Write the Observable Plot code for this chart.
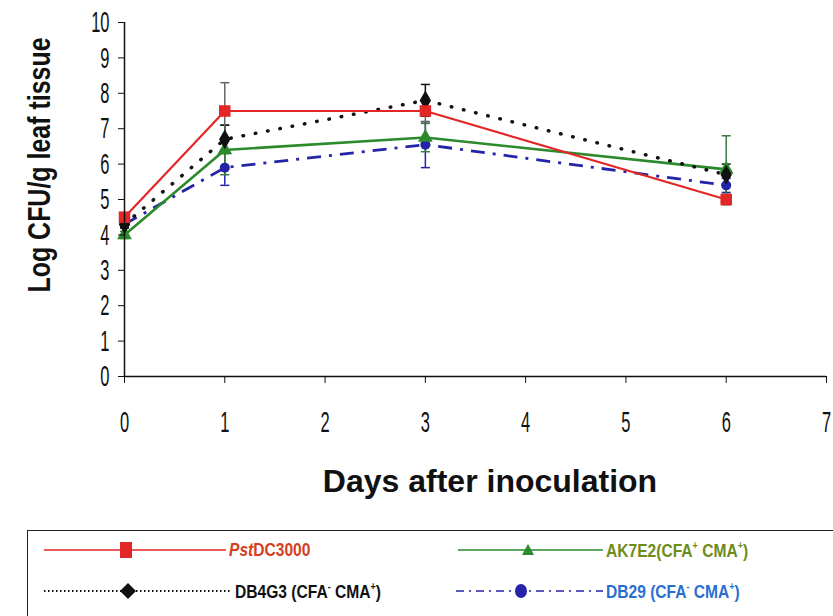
<!DOCTYPE html>
<html><head><meta charset="utf-8">
<script src="https://cdn.jsdelivr.net/npm/d3@7"></script>
<script src="https://cdn.jsdelivr.net/npm/@observablehq/plot@0.6"></script>
<style>
html,body{margin:0;padding:0;background:#fff;}
body{width:833px;height:616px;overflow:hidden;position:relative;font-family:"Liberation Sans",Arial,sans-serif;}
#chart{position:absolute;left:0;top:0;}
#chart g[aria-label="x-axis tick label"] text,#chart g[aria-label="y-axis tick label"] text{font-family:"Liberation Sans",Arial,sans-serif;font-size:30px;fill:#111;}
#chart g[aria-label="x-axis label"] text,#chart g[aria-label="y-axis label"] text{font-family:"Liberation Sans",Arial,sans-serif;font-weight:bold;font-size:32px;fill:#111;}
#legend{position:absolute;left:27px;top:530px;width:830px;height:100px;border:1.5px solid #222;box-sizing:border-box;}
.item{position:absolute;height:30px;display:flex;align-items:center;font-family:"Liberation Sans",Arial,sans-serif;font-weight:bold;font-size:19px;white-space:nowrap;}
.item svg{display:block;margin-right:3px;}
.item span{display:inline-block;transform:scaleX(0.82);transform-origin:left center;}
sup{font-size:11px;vertical-align:8px;}
</style></head>
<body>
<div id="chart"></div>
<div id="legend"></div>
<script>
// ---- data ----
const days = [0, 1, 3, 6];
const seriesNames = ["Pst DC3000", "DB4G3 (CFA- CMA+)", "AK7E2(CFA+ CMA+)", "DB29 (CFA- CMA+)"];
const pstMean   = [4.5, 7.5, 7.5, 5.0];
const pstErr    = [0.1, 0.8, 0.3, 0.15];
const db4g3Mean = [4.3, 6.7, 7.8, 5.7];
const db4g3Err  = [0.1, 0.4, 0.45, 0.3];
const ak7e2Mean = [4.0, 6.4, 6.75, 5.85];
const ak7e2Err  = [0.1, 0.7, 0.4, 0.95];
const db29Mean  = [4.3, 5.9, 6.55, 5.4];
const db29Err   = [0.1, 0.5, 0.65, 0.2];
const xTicks = [0, 1, 2, 3, 4, 5, 6, 7];
const yTicks = [0, 1, 2, 3, 4, 5, 6, 7, 8, 9, 10];

// ---- styles ----
const styles = {
  "Pst DC3000":        {color:"#e32626", err:"#666", dash:null, cap:"round", width:2.2, symbol:"square", r:6.5},
  "DB4G3 (CFA- CMA+)": {color:"#111111", err:"#111", dash:"0.5,12", cap:"round", width:3.5, symbol:"diamond", r:6},
  "AK7E2(CFA+ CMA+)":  {color:"#2b8a2b", err:"#3a7a3a", dash:null, cap:"round", width:2.6, symbol:"triangle", r:5.5},
  "DB29 (CFA- CMA+)":  {color:"#2424a8", err:"#2424a8", dash:"14,8,3,8", cap:"butt", width:2.8, symbol:"circle", r:5}
};
const means = [pstMean, db4g3Mean, ak7e2Mean, db29Mean];
const errs  = [pstErr, db4g3Err, ak7e2Err, db29Err];
const rows = [];
seriesNames.forEach((s, i) => days.forEach((d, j) => rows.push({series:s, day:d, value:means[i][j], err:errs[i][j]})));

const drawOrder = ["DB29 (CFA- CMA+)", "AK7E2(CFA+ CMA+)", "DB4G3 (CFA- CMA+)", "Pst DC3000"];
const marks = [];
for (const s of drawOrder) {
  const st = styles[s];
  const data = rows.filter(r => r.series === s);
  marks.push(Plot.ruleX(data, {x:"day", y1:d => d.value - d.err, y2:d => d.value + d.err, stroke:st.err, strokeWidth:1.5}));
  marks.push(Plot.link(data, {x1:d => d.day - 0.045, x2:d => d.day + 0.045, y1:d => d.value + d.err, y2:d => d.value + d.err, stroke:st.err, strokeWidth:1.5}));
  marks.push(Plot.link(data, {x1:d => d.day - 0.045, x2:d => d.day + 0.045, y1:d => d.value - d.err, y2:d => d.value - d.err, stroke:st.err, strokeWidth:1.5}));
}
for (const s of drawOrder) {
  const st = styles[s];
  const data = rows.filter(r => r.series === s);
  marks.push(Plot.line(data, {x:"day", y:"value", stroke:st.color, strokeWidth:st.width, strokeDasharray:st.dash, strokeLinecap:st.cap}));
}
for (const s of drawOrder) {
  const st = styles[s];
  const data = rows.filter(r => r.series === s);
  marks.push(Plot.dot(data, {x:"day", y:"value", symbol:() => st.symbol, r:st.r, fill:st.color, stroke:"none"}));
}

const chart = Plot.plot({
  width: 833, height: 530,
  marginLeft: 124, marginRight: 7, marginTop: 22, marginBottom: 154,
  style: {background:"#fff", color:"#111", overflow:"visible"},
  x: {domain:[0, 7]},
  y: {domain:[0, 10]},
  symbol: {type:"identity"},
  marks: [
    ...marks,
    Plot.ruleX([0], {stroke:"#111", strokeWidth:1.5}),
    Plot.ruleY([0], {stroke:"#111", strokeWidth:1.5}),
    Plot.axisX({ticks:xTicks, tickSize:7, tickPadding:27, tickFormat:d => String(d), label:"Days after inoculation", labelAnchor:"center", labelArrow:"none", stroke:"#111"}),
    Plot.axisY({ticks:yTicks, tickSize:6, tickPadding:9, tickFormat:d => String(d), label:"Log CFU/g leaf tissue", labelAnchor:"center", labelArrow:"none", stroke:"#111"})
  ]
});
document.getElementById("chart").appendChild(chart);

const svg = d3.select(chart);
// condensed tick labels (compress glyphs without touching positions)
svg.selectAll('g[aria-label="x-axis tick label"] text, g[aria-label="y-axis tick label"] text').each(function() {
  const w = this.getComputedTextLength();
  if (w > 0) {
    this.setAttribute("textLength", (w * 0.55).toFixed(2));
    this.setAttribute("lengthAdjust", "spacingAndGlyphs");
  }
});
// axis titles
const xl = svg.select('g[aria-label="x-axis label"]');
xl.attr("transform", null);
xl.select("text").attr("x", null).attr("y", null).attr("dy", null)
  .attr("text-anchor", "middle").attr("dominant-baseline", "central")
  .attr("transform", "translate(490,481)");
const yl = svg.select('g[aria-label="y-axis label"]');
yl.attr("transform", null);
yl.select("text").attr("x", null).attr("y", null).attr("dy", null)
  .attr("text-anchor", "middle").attr("dominant-baseline", "central")
  .attr("transform", "translate(39,165) rotate(-90) scale(0.78,1)");

// ---- legend ----
const legend = document.getElementById("legend");
const legendItems = [
  {s:"Pst DC3000", left:16, top:4, lineW:182, mark:82, textColor:"#d2401e", html:'<i>Pst</i>DC3000'},
  {s:"AK7E2(CFA+ CMA+)", left:430, top:4, lineW:145, mark:70, textColor:"#6e8c1a", html:'AK7E2(CFA<sup>+</sup> CMA<sup>+</sup>)'},
  {s:"DB4G3 (CFA- CMA+)", left:16, top:45, lineW:188, mark:84, textColor:"#111", html:'DB4G3 (CFA<sup>-</sup> CMA<sup>+</sup>)'},
  {s:"DB29 (CFA- CMA+)", left:428, top:45, lineW:147, mark:65, textColor:"#2a6fd0", html:'DB29 (CFA<sup>-</sup> CMA<sup>+</sup>)'}
];
for (const it of legendItems) {
  const st = styles[it.s];
  const div = document.createElement("div");
  div.className = "item";
  div.style.left = it.left + "px";
  div.style.top = it.top + "px";
  const w = it.lineW, cy = 15, cx = it.mark;
  let sym = "";
  if (st.symbol === "square") sym = `<rect x="${cx-6}" y="${cy-8}" width="12" height="16" fill="${st.color}"/>`;
  else if (st.symbol === "diamond") sym = `<path d="M${cx},${cy-8}L${cx+8},${cy}L${cx},${cy+8}L${cx-8},${cy}Z" fill="${st.color}"/>`;
  else if (st.symbol === "triangle") sym = `<path d="M${cx},${cy-6}L${cx+6},${cy+5}L${cx-6},${cy+5}Z" fill="${st.color}"/>`;
  else sym = `<ellipse cx="${cx}" cy="${cy}" rx="6" ry="7" fill="${st.color}"/>`;
  const dash = it.s.startsWith("DB4G3") ? 'stroke-dasharray="1.5,2.5"' : (st.dash ? 'stroke-dasharray="8,5,2,5"' : "");
  const sw = it.s.startsWith("DB4G3") ? 2 : 1.5;
  div.innerHTML = `<svg width="${w}" height="30"><line x1="0" x2="${w}" y1="${cy}" y2="${cy}" stroke="${st.color}" stroke-width="${sw}" ${dash}/>${sym}</svg><span style="color:${it.textColor}">${it.html}</span>`;
  legend.appendChild(div);
}
</script>
</body></html>
